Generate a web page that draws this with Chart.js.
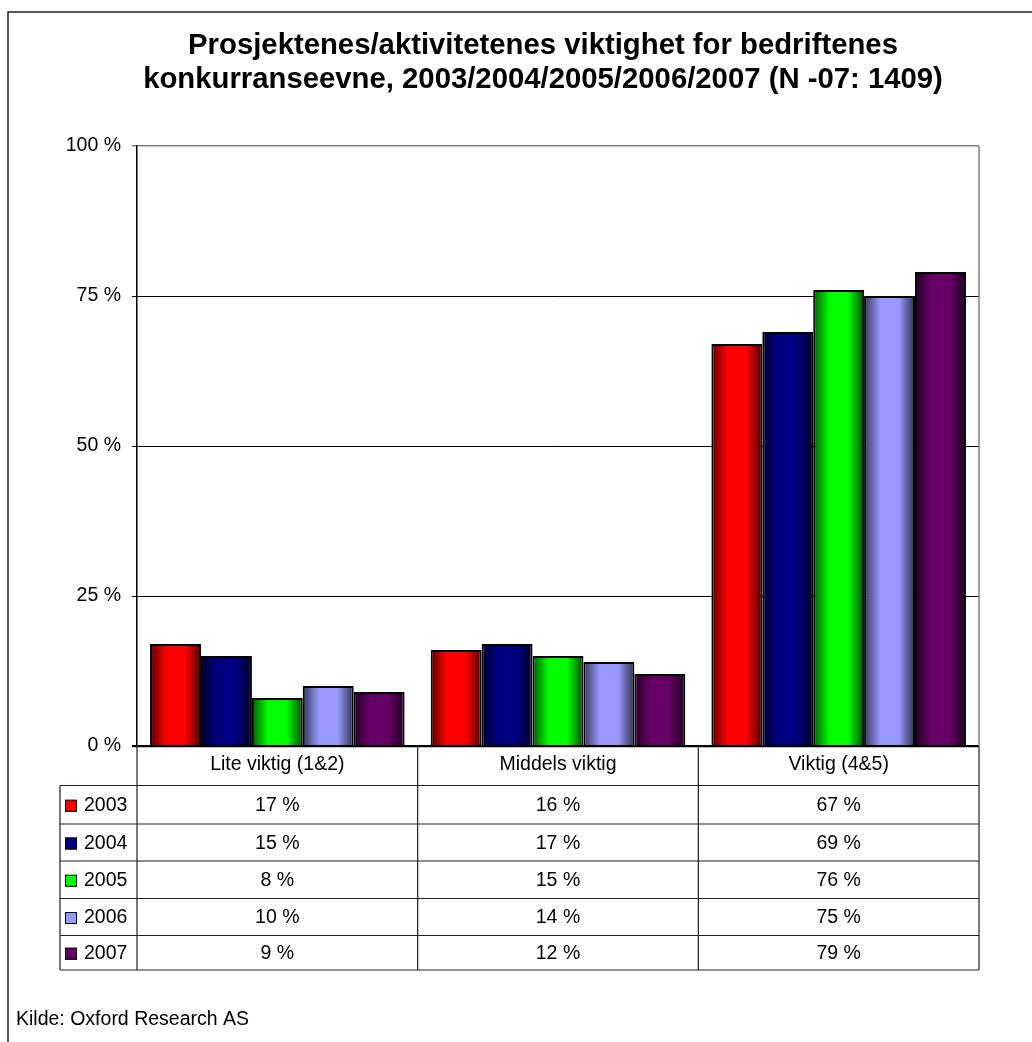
<!DOCTYPE html>
<html>
<head>
<meta charset="utf-8">
<title>Prosjektenes viktighet</title>
<script src="https://cdn.jsdelivr.net/npm/chart.js@4/dist/chart.umd.min.js"></script>
<style>
  html, body { margin: 0; padding: 0; background: #fff; }
  #wrap { width: 1032px; height: 1042px; }
</style>
</head>
<body>
<div id="wrap"><canvas id="myChart" width="1032" height="1042"></canvas></div>
<script>
// Data
var categories = ["Lite viktig (1&2)", "Middels viktig", "Viktig (4&5)"];
var years = ["2003", "2004", "2005", "2006", "2007"];
var v2003 = [17, 16, 67];
var v2004 = [15, 17, 69];
var v2005 = [8, 15, 76];
var v2006 = [10, 14, 75];
var v2007 = [9, 12, 79];
var yTicks = [0, 25, 50, 75, 100];

var titleLines = ["Prosjektenes/aktivitetenes viktighet for bedriftenes",
                  "konkurranseevne, 2003/2004/2005/2006/2007 (N -07: 1409)"];
var sourceText = "Kilde: Oxford Research AS";

var colors = ["#FF0000", "#000080", "#00FF00", "#9999FF", "#660066"];
var series = [v2003, v2004, v2005, v2006, v2007];

var FONT = '"Liberation Sans", Arial, sans-serif';
var CAT_PCT = 0.907;
// table row edges (header row + one row per year)
var rowEdges = [746, 785.5, 824, 861, 898.5, 935.5, 970];
var legendLeft = 60;

function shade(hex, f) {
    var r = parseInt(hex.substr(1, 2), 16), g = parseInt(hex.substr(3, 2), 16), b = parseInt(hex.substr(5, 2), 16);
    return "rgb(" + Math.round(r * f) + "," + Math.round(g * f) + "," + Math.round(b * f) + ")";
}

// horizontal shine on every bar, placed from the x scale
function barFill(c) {
    var col = colors[c.datasetIndex];
    var chart = c.chart, xs = chart.scales.x;
    if (!chart.chartArea || !xs || c.dataIndex === undefined) return col;
    var catW = xs.width / categories.length;
    var groupW = catW * CAT_PCT;
    var barW = groupW / years.length;
    var x0 = xs.getPixelForValue(c.dataIndex) - groupW / 2 + c.datasetIndex * barW;
    var g = chart.ctx.createLinearGradient(x0, 0, x0 + barW, 0);
    g.addColorStop(0, shade(col, 0.35));
    g.addColorStop(0.32, col);
    g.addColorStop(0.68, col);
    g.addColorStop(1, shade(col, 0.3));
    return g;
}

var frame = {
    id: "frame",
    afterDraw: function (chart) {
        var ctx = chart.ctx, a = chart.chartArea;
        ctx.save();
        // outer frame (top + left)
        ctx.strokeStyle = "#222";
        ctx.lineWidth = 1.5;
        ctx.beginPath();
        ctx.moveTo(8, 1042);
        ctx.lineTo(8, 12);
        ctx.lineTo(1032, 12);
        ctx.stroke();

        // title
        ctx.fillStyle = "#000";
        ctx.textAlign = "center";
        ctx.textBaseline = "alphabetic";
        ctx.font = "bold 29.3px " + FONT;
        ctx.fillText(titleLines[0], 543, 54);
        ctx.fillText(titleLines[1], 543, 88);

        // plot area right border
        ctx.strokeStyle = "#808080";
        ctx.lineWidth = 1.5;
        ctx.beginPath();
        ctx.moveTo(a.right, a.top);
        ctx.lineTo(a.right, a.bottom);
        ctx.stroke();

        // data table
        var xs = chart.scales.x;
        var catW = (a.right - a.left) / categories.length;
        ctx.strokeStyle = "#222";
        ctx.lineWidth = 1.2;
        ctx.beginPath();
        for (var c = 0; c <= categories.length; c++) {
            var vx = a.left + c * catW;
            ctx.moveTo(vx, rowEdges[0]);
            ctx.lineTo(vx, rowEdges[rowEdges.length - 1]);
        }
        ctx.moveTo(legendLeft, rowEdges[1]);
        ctx.lineTo(legendLeft, rowEdges[rowEdges.length - 1]);
        for (var r = 1; r < rowEdges.length; r++) {
            ctx.moveTo(legendLeft, rowEdges[r]);
            ctx.lineTo(a.right, rowEdges[r]);
        }
        ctx.stroke();

        ctx.font = "19.5px " + FONT;
        ctx.textBaseline = "middle";
        for (var s = 0; s < series.length; s++) {
            var cy = (rowEdges[s + 1] + rowEdges[s + 2]) / 2 + 1;
            // legend key
            ctx.fillStyle = colors[s];
            ctx.fillRect(65, cy - 6, 12, 12);
            ctx.strokeStyle = "#000";
            ctx.lineWidth = 1;
            ctx.strokeRect(65.5, cy - 5.5, 11, 11);
            ctx.fillStyle = "#000";
            ctx.textAlign = "left";
            ctx.fillText(years[s], 84, cy);
            ctx.textAlign = "center";
            for (var k = 0; k < categories.length; k++) {
                ctx.fillText(series[s][k] + " %", xs.getPixelForValue(k), cy);
            }
        }

        // source
        ctx.textAlign = "left";
        ctx.textBaseline = "alphabetic";
        ctx.font = "19.5px " + FONT;
        ctx.fillText(sourceText, 16, 1025);
        ctx.restore();
    }
};

var datasets = years.map(function (y, i) {
    return {
        label: y,
        data: series[i],
        backgroundColor: barFill,
        borderColor: "#000",
        borderWidth: 2,
        borderSkipped: "bottom",
        categoryPercentage: CAT_PCT,
        barPercentage: 1
    };
});

new Chart(document.getElementById("myChart"), {
    type: "bar",
    data: { labels: categories, datasets: datasets },
    options: {
        responsive: false,
        animation: false,
        layout: { padding: { left: 0, top: 146, right: 53, bottom: 0 } },
        plugins: {
            legend: { display: false },
            title: { display: false },
            tooltip: { enabled: false }
        },
        scales: {
            x: {
                grid: { display: false, drawTicks: false },
                border: { display: false },
                ticks: { color: "#000", font: { family: FONT, size: 19.5 }, padding: 7 },
                afterFit: function (scale) { scale.height = 1042 - 746; }
            },
            y: {
                min: 0,
                max: 100,
                afterBuildTicks: function (scale) {
                    scale.ticks = yTicks.map(function (v) { return { value: v }; });
                },
                ticks: {
                    color: "#000",
                    padding: 11,
                    font: { family: FONT, size: 19.5 },
                    callback: function (v) { return v + " %"; }
                },
                grid: {
                    color: function (c) { return c.tick && c.tick.value === 100 ? "#808080" : "#000"; },
                    lineWidth: function (c) { return c.tick && c.tick.value === 0 ? 2.2 : (c.tick && c.tick.value === 100 ? 1.5 : 1); },
                    tickLength: 5
                },
                border: { color: "#000", width: 1.5 },
                afterFit: function (scale) { scale.width = 137; }
            }
        }
    },
    plugins: [frame]
});
</script>
</body>
</html>
